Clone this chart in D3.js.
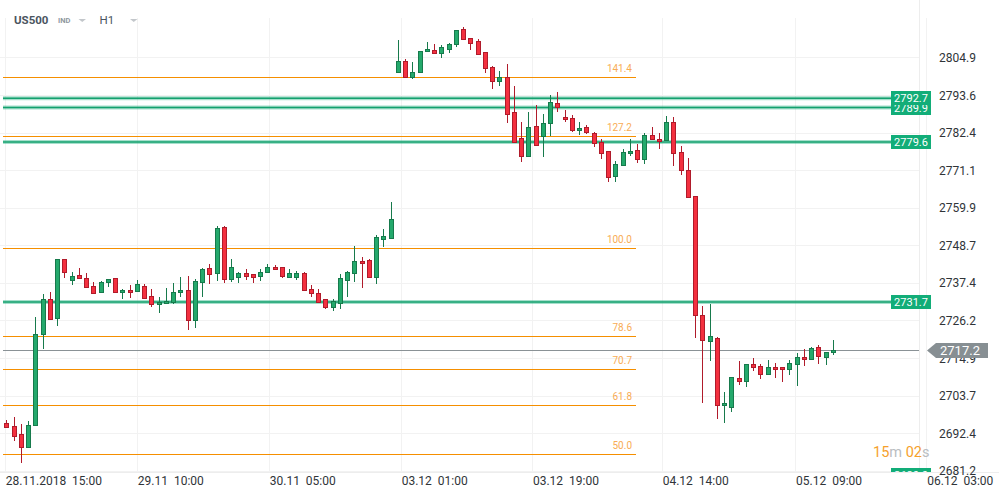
<!DOCTYPE html>
<html>
<head>
<meta charset="utf-8">
<script src="https://cdn.jsdelivr.net/npm/d3@7"></script>
<style>
  html, body { margin: 0; padding: 0; background: #fff; }
  svg { display: block; font-family: Roboto, "Noto Sans", sans-serif; }
</style>
</head>
<body>
<svg id="chart" width="999" height="497"></svg>
<script>
// US500 H1 candles, one per bar index
const opens = [2695.5,2694.6,2692.2,2688.2,2694.8,2722.2,2732.5,2727.0,2744.5,2738.4,2739.8,2738.8,2736.4,2734.6,2737.6,2738.8,2734.6,2735.2,2734.9,2736.4,
  2733.4,2731.1,2731.3,2731.8,2734.6,2735.2,2726.2,2737.6,2741.8,2740.3,2754.1,2738.5,2739.3,2740.3,2740.0,2739.6,2740.6,2742.1,2742.1,2739.3,
  2739.3,2740.3,2735.5,2734.3,2732.5,2730.1,2731.3,2738.2,2740.3,2743.9,2744.2,2739.3,2750.5,2750.9,2800.5,2803.8,2799.1,2800.6,2806.7,2807.0,
  2806.1,2807.3,2808.8,2813.3,2810.6,2809.7,2806.4,2802.2,2797.8,2799.0,2788.5,2780.7,2775.3,2784.3,2781.5,2785.2,2791.2,2787.1,2786.7,2783.1,
  2784.0,2782.2,2779.5,2776.8,2769.3,2772.6,2776.2,2777.1,2774.4,2781.6,2780.4,2780.1,2785.5,2776.5,2771.1,2763.3,2727.7,2719.9,2720.8,2701.0,
  2700.3,2708.8,2707.9,2713.0,2712.4,2710.0,2712.1,2712.1,2711.5,2713.0,2715.1,2714.5,2718.1,2715.1,2716.6]
const highs = [2696.4,2697.3,2695.2,2696.1,2727.2,2734.1,2734.7,2744.6,2744.6,2740.7,2741.9,2740.4,2737.6,2738.0,2738.7,2738.9,2735.7,2736.7,2738.2,2737.0,
  2735.5,2733.1,2735.8,2737.4,2739.2,2739.5,2738.5,2741.9,2743.1,2754.4,2754.4,2744.6,2740.8,2741.6,2740.1,2741.6,2743.1,2742.7,2742.2,2741.6,
  2741.0,2740.6,2736.7,2735.5,2732.6,2732.5,2740.0,2740.9,2748.4,2745.1,2744.5,2751.7,2753.5,2761.5,2810.1,2804.4,2803.5,2806.8,2809.4,2808.8,
  2808.5,2809.1,2813.1,2813.9,2810.7,2810.3,2806.5,2802.3,2801.0,2802.9,2796.3,2785.5,2788.6,2790.6,2788.0,2793.7,2794.6,2789.2,2787.6,2785.5,
  2784.6,2782.5,2780.4,2776.9,2773.8,2777.4,2780.4,2778.9,2782.2,2784.0,2782.2,2787.4,2787.0,2778.3,2774.7,2763.4,2730.5,2731.2,2721.2,2704.7,
  2709.2,2714.0,2713.1,2714.8,2713.0,2714.2,2713.3,2712.2,2714.2,2716.3,2717.5,2718.1,2718.7,2716.7,2720.2]
const lows = [2694.0,2690.1,2683.6,2688.0,2694.6,2717.7,2726.5,2724.6,2739.0,2736.8,2738.6,2736.0,2734.1,2734.4,2736.2,2734.5,2732.7,2733.0,2734.7,2732.5,
  2730.3,2728.5,2731.1,2731.0,2733.1,2723.2,2724.0,2733.1,2737.0,2738.1,2737.3,2737.6,2737.5,2738.3,2737.5,2738.1,2740.5,2741.4,2739.0,2739.2,
  2738.3,2735.1,2733.3,2731.5,2729.5,2728.9,2729.5,2733.1,2737.8,2735.8,2739.2,2737.2,2748.2,2750.6,2800.2,2798.7,2798.5,2800.3,2806.6,2805.8,
  2804.8,2806.1,2807.9,2810.2,2807.0,2805.5,2800.3,2795.5,2796.4,2785.4,2779.2,2773.7,2775.2,2778.7,2775.2,2781.5,2788.5,2785.7,2782.7,2781.8,
  2781.9,2778.0,2774.4,2767.7,2767.5,2772.5,2775.3,2773.2,2772.9,2780.1,2777.4,2780.0,2772.3,2769.6,2762.9,2721.0,2701.5,2714.1,2696.7,2695.5,
  2698.8,2706.9,2706.3,2711.1,2708.7,2709.9,2709.0,2707.8,2709.9,2706.6,2712.4,2714.4,2713.0,2712.7,2715.7]
const closes = [2694.4,2691.7,2688.2,2694.8,2722.2,2732.5,2726.7,2744.5,2740.8,2739.4,2738.8,2736.3,2734.3,2737.6,2738.5,2734.6,2735.2,2734.6,2737.0,2733.0,
  2731.1,2731.6,2731.9,2734.6,2735.2,2726.2,2737.9,2741.5,2740.0,2753.8,2738.5,2742.1,2740.3,2739.6,2739.3,2740.6,2742.1,2741.5,2739.6,2740.3,
  2740.3,2735.2,2734.3,2731.6,2730.1,2732.1,2738.8,2740.6,2743.9,2743.3,2739.3,2751.1,2751.4,2756.4,2803.8,2799.1,2800.5,2806.7,2807.3,2806.3,
  2807.9,2808.8,2813.0,2810.3,2809.1,2805.8,2801.7,2797.8,2799.1,2788.1,2779.7,2775.3,2784.0,2778.8,2785.2,2791.5,2790.2,2786.4,2783.1,2783.7,
  2782.5,2779.2,2776.2,2769.0,2772.9,2776.5,2776.8,2774.4,2781.6,2780.4,2779.8,2785.5,2776.2,2771.1,2763.0,2727.7,2720.2,2721.5,2701.0,2701.6,
  2709.1,2707.9,2713.0,2712.3,2710.0,2712.1,2711.5,2711.5,2713.3,2715.1,2714.5,2717.8,2715.4,2716.6,2717.2]

const yTicks = [2681.2, 2692.4, 2703.7, 2714.9, 2726.2, 2737.4, 2748.7, 2759.9, 2771.1, 2782.4, 2793.6, 2804.9]
const xTickBars = [-0.2, 18, 36.2, 54.4, 72.5, 90.4, 108.8, 126.9]
const xTickLabels = ['28.11.2018  15:00', '29.11  10:00', '30.11  05:00', '03.12  01:00', '03.12  19:00', '04.12  14:00', '05.12  09:00', '06.12  03:00']

const levels = [2680.0, 2731.7, 2779.6, 2789.9, 2792.7]
const fibRatios = [0.5, 0.618, 0.707, 0.786, 1.0, 1.272, 1.414]
const fibLabels = ['50.0', '61.8', '70.7', '78.6', '100.0', '127.2', '141.4']
const fibBase = 2624.49
const fibTop = 2747.85
const lastPrice = 2717.2

const W = 999, H = 497
const plotRight = 919, plotBottom = 472

const svg = d3.select('#chart')

const x = d3.scaleLinear().domain([0, 114]).range([6.3, 832.8])
const y = d3.scaleLinear().domain([2680.8, 2822.11]).range([plotBottom, 0])
const fibPrice = r => fibBase + (fibTop - fibBase) * r
const px = v => Math.round(v) + 0.5

const defs = svg.append('defs')
defs.append('clipPath').attr('id', 'plot')
  .append('rect').attr('x', 0).attr('y', 0).attr('width', plotRight).attr('height', plotBottom)
defs.append('clipPath').attr('id', 'plotAxis')
  .append('rect').attr('x', 0).attr('y', 0).attr('width', W).attr('height', plotBottom)

// grid
const grid = svg.append('g')
grid.selectAll('line.h').data(yTicks).join('line')
  .attr('x1', 0).attr('x2', plotRight)
  .attr('y1', d => px(y(d))).attr('y2', d => px(y(d)))
  .attr('stroke', '#f2f2f2')
grid.selectAll('line.v').data(xTickBars).join('line')
  .attr('x1', d => px(x(d))).attr('x2', d => px(x(d)))
  .attr('y1', 18).attr('y2', plotBottom)
  .attr('stroke', '#f2f2f2')
grid.append('line').attr('x1', plotRight + 0.5).attr('x2', plotRight + 0.5)
  .attr('y1', 0).attr('y2', plotBottom).attr('stroke', '#ededed')
grid.append('line').attr('x1', 0).attr('x2', W)
  .attr('y1', plotBottom + 0.5).attr('y2', plotBottom + 0.5).attr('stroke', '#ededed')

const plot = svg.append('g').attr('clip-path', 'url(#plot)')

// fibonacci lines
const fib = plot.append('g')
fib.selectAll('line').data(fibRatios).join('line')
  .attr('x1', 3).attr('x2', 636)
  .attr('y1', d => px(y(fibPrice(d)))).attr('y2', d => px(y(fibPrice(d))))
  .attr('stroke', '#f58f00').attr('stroke-width', 1)
fib.selectAll('text').data(fibRatios).join('text')
  .attr('x', 632).attr('y', d => y(fibPrice(d)) - 5)
  .attr('text-anchor', 'end')
  .attr('font-size', 10).attr('fill', '#f8ac55')
  .text((d, i) => fibLabels[i])

// current price line
plot.append('line')
  .attr('x1', 3).attr('x2', 927)
  .attr('y1', px(y(lastPrice))).attr('y2', px(y(lastPrice)))
  .attr('stroke', '#8a9296').attr('stroke-width', 1)

// support / resistance levels
const lv = plot.append('g')
lv.selectAll('line.glow').data(levels).join('line')
  .attr('x1', 3).attr('x2', 891)
  .attr('y1', d => y(d)).attr('y2', d => y(d))
  .attr('stroke', '#1fb07c').attr('stroke-opacity', 0.4).attr('stroke-width', 4)
lv.selectAll('line.core').data(levels).join('line')
  .attr('x1', 3).attr('x2', 891)
  .attr('y1', d => y(d)).attr('y2', d => y(d))
  .attr('stroke', '#14a06e').attr('stroke-width', 1.5)

// candles
const idx = d3.range(opens.length)
const up = i => closes[i] >= opens[i]
const candles = plot.append('g')
candles.selectAll('line').data(idx).join('line')
  .attr('x1', i => px(x(i))).attr('x2', i => px(x(i)))
  .attr('y1', i => Math.round(y(highs[i]))).attr('y2', i => Math.round(y(lows[i])))
  .attr('stroke', i => up(i) ? '#177a4c' : '#b01b2b')
candles.selectAll('rect').data(idx).join('rect')
  .attr('x', i => Math.round(x(i)) - 1.5)
  .attr('width', 4)
  .attr('y', i => Math.round(y(Math.max(opens[i], closes[i]))) + 0.5)
  .attr('height', i => Math.max(1, Math.round(y(Math.min(opens[i], closes[i]))) - Math.round(y(Math.max(opens[i], closes[i])))))
  .attr('fill', i => up(i) ? '#24a96c' : '#f3303f')
  .attr('stroke', i => up(i) ? '#177a4c' : '#b01b2b')
  .attr('stroke-width', 1)

// y axis labels
svg.append('g').selectAll('text').data(yTicks).join('text')
  .attr('x', 939).attr('y', d => y(d) + 4.5)
  .attr('font-size', 12).attr('fill', '#2f3438')
  .text(d => d.toFixed(1))

// x axis labels
svg.append('g').selectAll('text').data(xTickBars).join('text')
  .attr('x', d => x(d) + 1).attr('y', 485)
  .attr('font-size', 12).attr('fill', '#2f3438')
  .style('white-space', 'pre')
  .text((d, i) => xTickLabels[i])

// level tags (upper box drawn last so it sits on top)
const tags = svg.append('g').attr('clip-path', 'url(#plotAxis)')
tags.selectAll('g').data(levels).join('g')
  .each(function (d) {
    const g = d3.select(this)
    const cy = Math.round(y(d))
    g.append('rect').attr('x', 891).attr('y', cy - 7).attr('width', 40).attr('height', 14)
      .attr('fill', '#12ad78')
    g.append('text').attr('x', 911).attr('y', cy + 4)
      .attr('text-anchor', 'middle').attr('font-size', 11).attr('fill', '#fff')
      .text(d.toFixed(1))
  })

// last price tag
const ly = Math.round(y(lastPrice))
svg.append('path')
  .attr('d', `M927,${ly + 0.5} L936,${ly - 7} L988,${ly - 7} L988,${ly + 8} L936,${ly + 8} Z`)
  .attr('fill', '#878f93')
svg.append('text').attr('x', 940).attr('y', ly + 5)
  .attr('font-size', 13).attr('fill', '#fff')
  .text(lastPrice.toFixed(1))

// header
const head = svg.append('g')
head.append('rect').attr('x', 0).attr('y', 0).attr('width', 150).attr('height', 17).attr('fill', '#fff')
head.append('text').attr('x', 14).attr('y', 23.5).attr('font-size', 11.5).attr('font-weight', 700)
  .attr('fill', '#4a555f').text('US500')
head.append('text').attr('x', 58).attr('y', 22.7).attr('font-size', 7.5).attr('font-weight', 700)
  .attr('fill', '#8f989e').text('IND')
head.append('text').attr('x', 99.5).attr('y', 23.5).attr('font-size', 11.5)
  .attr('fill', '#4a555f').text('H1')
head.selectAll('path').data([78.5, 130]).join('path')
  .attr('d', d => `M${d},19 L${d + 7.5},19 L${d + 3.75},22 Z`)
  .attr('fill', '#c3c7cb')

// countdown
const timer = svg.append('text').attr('x', 873).attr('y', 457).attr('font-size', 14.5)
timer.append('tspan').attr('fill', '#f6a12c').text('15')
timer.append('tspan').attr('fill', '#b9bdc1').text('m ')
timer.append('tspan').attr('fill', '#f6a12c').text('02')
timer.append('tspan').attr('fill', '#b9bdc1').text('s')
</script>
</body>
</html>
